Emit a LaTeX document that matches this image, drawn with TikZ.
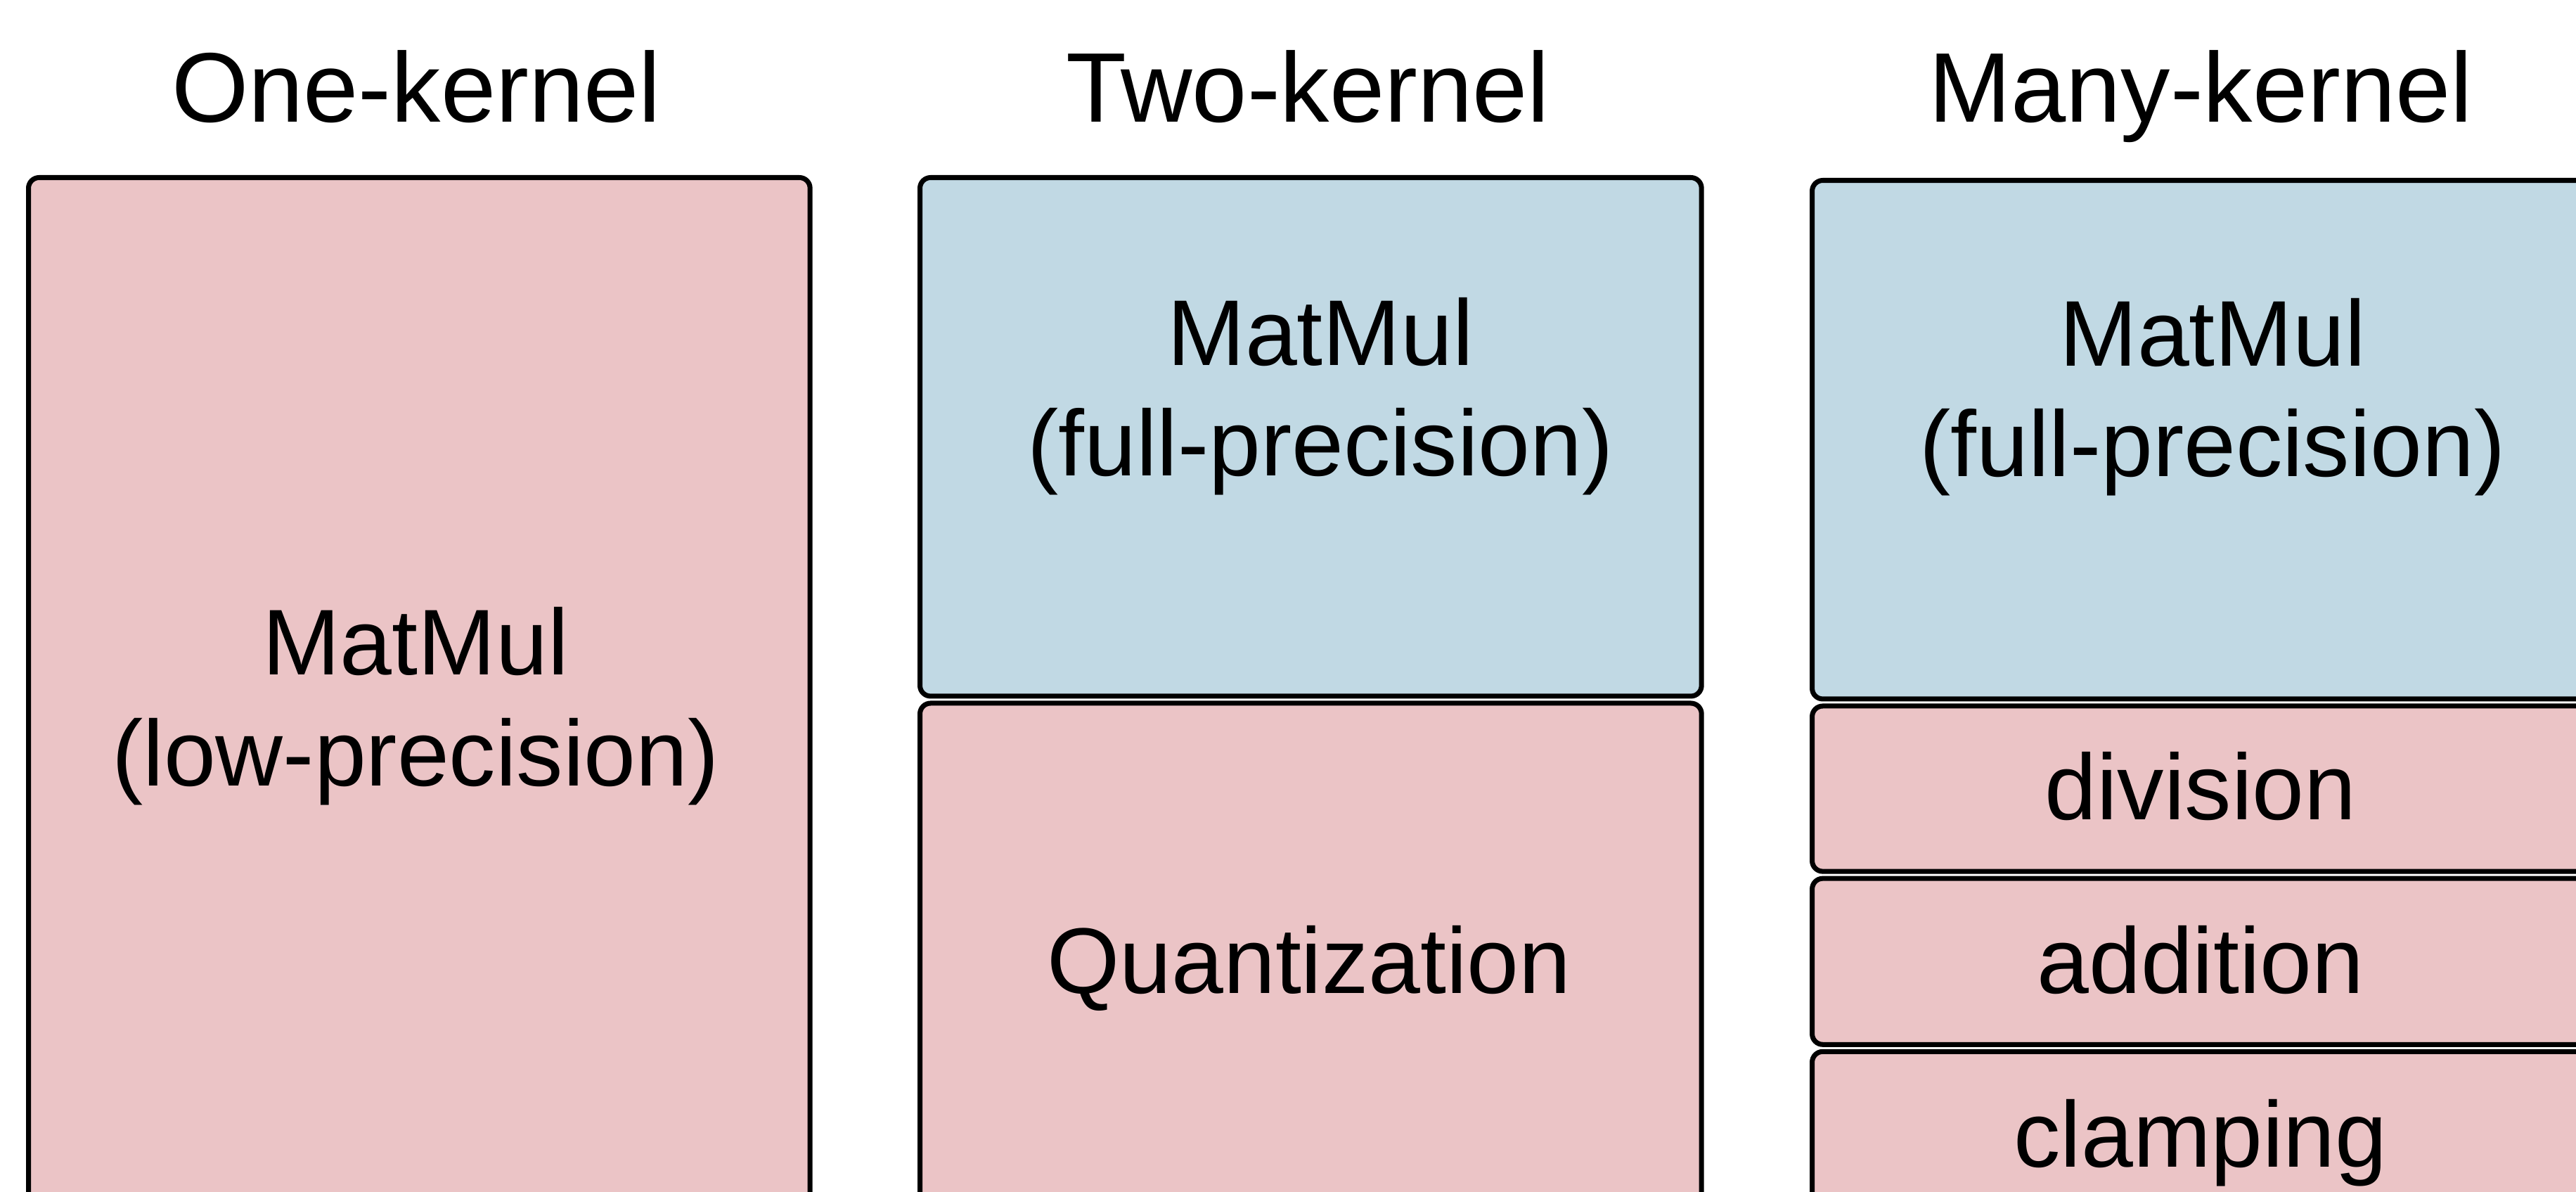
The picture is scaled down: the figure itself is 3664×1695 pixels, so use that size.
\documentclass[tikz,border=0pt]{standalone}
\usepackage{fontspec}
\setmainfont{Liberation Sans}
\usetikzlibrary{positioning}

\definecolor{lowpink}{RGB}{235,196,198}
\definecolor{fullblue}{RGB}{193,217,228}

\tikzset{
  kbox/.style={draw=black, line width=2pt, rounded corners=4.3pt, inner sep=0pt,
    minimum width=11.11cm},
  lowp/.style={kbox, fill=lowpink},
  fullp/.style={kbox, fill=fullblue},
  head/.style={font=\fontsize{40}{48}\selectfont, anchor=base},
  ktext/.style={font=\fontsize{37.75}{44.7}\selectfont, align=center, anchor=base}
}

\begin{document}
\begin{tikzpicture}[x=0.01cm, y=-0.01cm, node distance=0.03cm]
\useasboundingbox (0,0) rectangle (3664,1695);

% column headings
\node[head] (h1) at (592,174) {One-kernel};
\node[head] (h2) at (1860,174) {Two-kernel};
\node[head] (h3) at (3130,174) {Many-kernel};

% one kernel
\node[lowp, anchor=north west, minimum height=16.16cm] (one) at (37,249) {};

% two kernels
\node[fullp, anchor=north west, minimum height=7.37cm] (twomm) at (1305,249) {};
\node[lowp, below=of twomm, minimum height=7.36cm] (twoq) {};

% many kernels
\node[fullp, anchor=north west, minimum height=7.37cm] (manymm) at (2574,253) {};
\node[lowp, below=of manymm, minimum height=2.35cm] (div) {};
\node[lowp, below=of div, minimum height=2.36cm] (add) {};
\node[lowp, below=of add, minimum height=2.36cm] (clamp) {};

% texts (base = last line)
\node[ktext] (onet) at (591,1117) {MatMul\\(low-precision)};
\node[ktext] (twommt) at (1878,677) {MatMul\\(full-precision)};
\node[ktext] (twoqt) at (1862,1412) {Quantization};
\node[ktext] (manymmt) at (3147,678) {MatMul\\(full-precision)};
\node[ktext] (divt) at (3130,1165) {division};
\node[ktext] (addt) at (3130,1412) {addition};
\node[ktext] (clampt) at (3130,1659) {clamping};
\end{tikzpicture}
\end{document}
